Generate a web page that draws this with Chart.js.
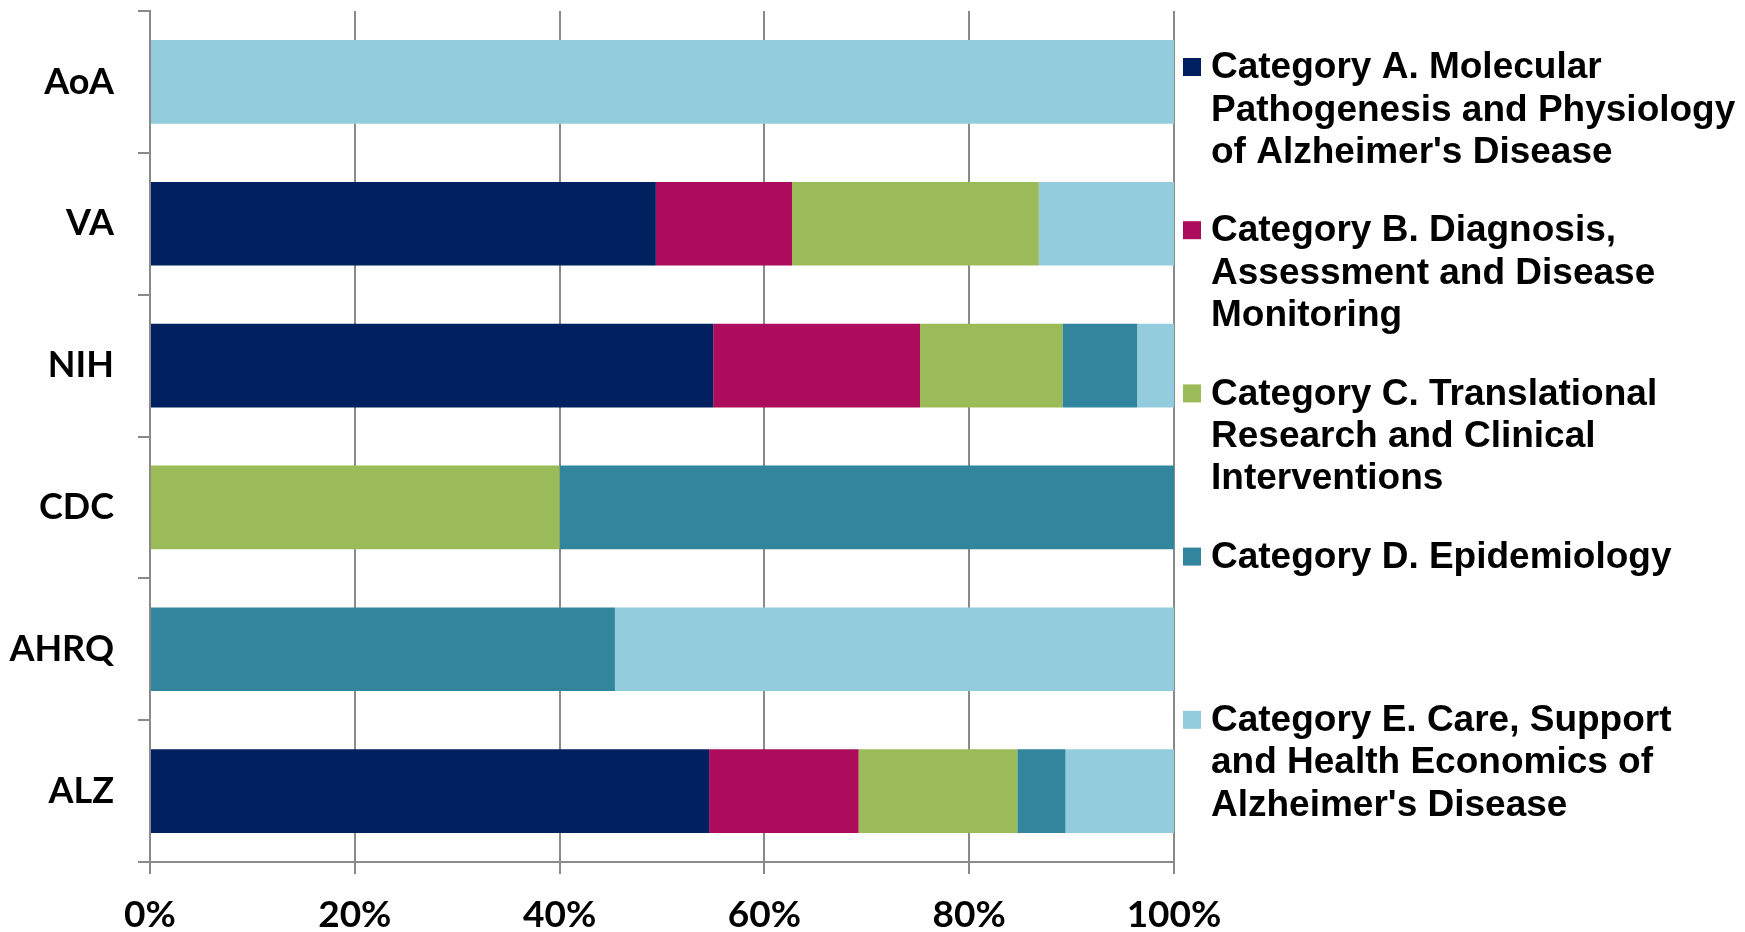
<!DOCTYPE html>
<html>
<head>
<meta charset="utf-8">
<script src="https://cdn.jsdelivr.net/npm/chart.js@4.4.1/dist/chart.umd.min.js"></script>
<style>
  html, body { margin: 0; padding: 0; background: #fff; }
  #wrap { width: 1745px; height: 932px; position: relative; }
</style>
</head>
<body>
<div id="wrap"><canvas id="mainChart"></canvas></div>
<script>
// Data
const agencies = ['AoA', 'VA', 'NIH', 'CDC', 'AHRQ', 'ALZ'];
const catA = [0, 49.4, 55.0, 0, 0, 54.6];
const catB = [0, 13.3, 20.2, 0, 0, 14.6];
const catC = [0, 24.1, 13.9, 40.0, 0, 15.5];
const catD = [0, 0, 7.3, 60.0, 45.4, 4.7];
const catE = [100, 13.2, 3.6, 0, 54.6, 10.6];
const xTicks = ['0%', '20%', '40%', '60%', '80%', '100%'];

// legend text, already wrapped the way the original shows it
const seriesNames = [
    ['Category A. Molecular', 'Pathogenesis and Physiology', "of Alzheimer's Disease"],
    ['Category B. Diagnosis,', 'Assessment and Disease', 'Monitoring'],
    ['Category C. Translational', 'Research and Clinical', 'Interventions'],
    ['Category D. Epidemiology'],
    ['Category E. Care, Support', 'and Health Economics of', "Alzheimer's Disease"]
];
const seriesColors = ['#00205F', '#AD0B5B', '#9BBB59', '#31859C', '#93CDDD'];
const seriesValues = [catA, catB, catC, catD, catE];

const gridColor = '#8a8a8a';
const xFont = { family: 'Lato', weight: 'bold', size: 37 };
const yFont = { family: 'Lato', weight: 'bold', size: 36 };

// Side legend drawn straight on the canvas (equal slots like the original)
const sideLegend = {
    id: 'sideLegend',
    afterDraw(chart) {
        const ctx = chart.ctx;
        const boxX = chart.chartArea.right + 9;
        const textX = boxX + 28;
        const slot = 163.2;
        const lineH = 42.3;
        let y0 = 66;
        ctx.save();
        ctx.font = 'bold 37px "Liberation Sans", Arial, sans-serif';
        ctx.textBaseline = 'middle';
        ctx.textAlign = 'left';
        chart.data.datasets.forEach((ds, i) => {
            const y = y0 + i * slot;
            ctx.fillStyle = ds.backgroundColor;
            ctx.fillRect(boxX, y - 8, 18, 18);
            ctx.fillStyle = '#000';
            ds.legendLines.forEach((line, j) => {
                ctx.fillText(line, textX, y + j * lineH + 2);
            });
        });
        ctx.restore();
    }
};

const ctx = document.getElementById('mainChart').getContext('2d');

const chart = new Chart(ctx, {
    type: 'bar',
    data: {
        labels: agencies,
        datasets: seriesValues.map((vals, i) => ({
            label: seriesNames[i].join(' '),
            legendLines: seriesNames[i],
            data: vals,
            backgroundColor: seriesColors[i],
            borderWidth: 0,
            categoryPercentage: 1.0,
            barPercentage: 0.59
        }))
    },
    options: {
        indexAxis: 'y',
        responsive: true,
        maintainAspectRatio: false,
        devicePixelRatio: 1,
        animation: false,
        layout: { padding: { top: 11, right: 571, left: 0, bottom: 0 } },
        plugins: {
            legend: { display: false },
            tooltip: { enabled: false }
        },
        scales: {
            x: {
                stacked: true,
                min: 0,
                max: 100,
                afterFit: (s) => { s.height = 70; s.paddingLeft = 0; s.paddingRight = 0; },
                ticks: {
                    stepSize: 20,
                    color: '#000',
                    font: xFont,
                    padding: 19,
                    callback: (v) => xTicks[Math.round(v / 20)]
                },
                grid: {
                    color: gridColor,
                    lineWidth: 2,
                    tickLength: 12,
                    drawTicks: true
                },
                border: { color: gridColor, width: 2 }
            },
            y: {
                stacked: true,
                afterFit: (s) => { s.width = 150; s.paddingTop = 0; s.paddingBottom = 0; },
                ticks: {
                    color: '#000',
                    font: yFont,
                    padding: 24
                },
                grid: {
                    offset: true,
                    drawOnChartArea: false,
                    color: gridColor,
                    lineWidth: 2,
                    tickLength: 12
                },
                border: { color: gridColor, width: 2 }
            }
        }
    },
    plugins: [sideLegend]
});
</script>
</body>
</html>
